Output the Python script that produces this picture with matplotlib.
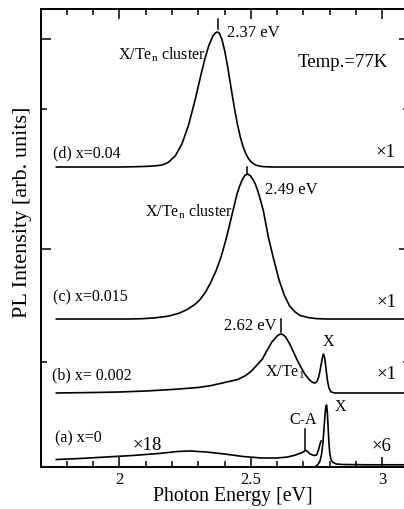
import numpy as np
import matplotlib
matplotlib.use("Agg")
import matplotlib.pyplot as plt
from matplotlib.ticker import MultipleLocator, FixedLocator, NullFormatter

plt.rcParams['font.family'] = ['Liberation Serif', 'DejaVu Serif']
plt.rcParams['mathtext.fontset'] = 'stix'

# (a) x=0, x18 part (broad band + C-A)
a18_e = [1.76, 1.85, 1.95, 2.05, 2.15, 2.22, 2.27, 2.33, 2.40, 2.47, 2.54, 2.60, 2.64, 2.67, 2.69, 2.70,
         2.707, 2.715, 2.725, 2.74, 2.75, 2.757, 2.762, 2.767]
a18_i = [0.75, 0.85, 1.0, 1.15, 1.35, 1.55, 1.6, 1.5, 1.3, 1.05, 0.9, 0.9, 1.0, 1.2, 1.4, 1.5,
         1.7, 1.55, 1.3, 1.15, 1.2, 1.7, 2.2, 2.6]
# (a) x=0, x6 part (free exciton X)
a6_e = [2.748, 2.755, 2.763, 2.769, 2.774, 2.778, 2.782, 2.785, 2.788, 2.791, 2.794, 2.797, 2.800,
        2.805, 2.812, 2.825, 2.85, 2.95, 3.1]
a6_i = [0.1, 0.25, 0.6, 1.3, 2.4, 3.8, 5.2, 6.0, 6.2, 5.4, 3.9, 2.4, 1.4,
        0.75, 0.45, 0.3, 0.25, 0.22, 0.22]

# (b) x=0.002
b_e = [1.76, 1.9, 2.0, 2.1, 2.2, 2.3, 2.35, 2.40, 2.45, 2.48, 2.50, 2.52, 2.544, 2.56, 2.58, 2.60,
       2.608, 2.616, 2.624, 2.632, 2.648, 2.662, 2.676, 2.69, 2.705, 2.72, 2.735, 2.745, 2.752, 2.758,
       2.765, 2.771, 2.776, 2.781, 2.786, 2.791, 2.797, 2.805, 2.82, 2.9, 3.1]
b_i = [7.4, 7.45, 7.5, 7.6, 7.75, 7.95, 8.15, 8.45, 8.75, 9.15, 9.55, 10.1, 10.8, 11.6, 12.5, 13.1,
       13.25, 13.3, 13.2, 13.0, 12.3, 11.5, 10.7, 10.0, 9.3, 8.8, 8.45, 8.4, 8.6, 9.0,
       9.9, 10.8, 11.3, 10.9, 9.8, 8.7, 7.9, 7.5, 7.4, 7.4, 7.4]

# (c) x=0.015
c_e = [1.76, 1.9, 2.037, 2.087, 2.137, 2.187, 2.227, 2.257, 2.287, 2.307, 2.327, 2.347, 2.367, 2.387,
       2.407, 2.427, 2.447, 2.457, 2.467, 2.477, 2.487, 2.497, 2.507, 2.517, 2.527, 2.547, 2.567,
       2.587, 2.607, 2.627, 2.647, 2.667, 2.687, 2.717, 2.747, 2.787, 2.9, 3.1]
c_i = [14.8, 14.8, 14.8, 14.83, 14.92, 15.09, 15.38, 15.74, 16.25, 16.76, 17.48, 18.43, 19.59, 21.04,
       22.92, 25.1, 27.27, 28.07, 28.72, 29.15, 29.3, 29.15, 28.79, 28.29, 27.56, 25.68, 22.92,
       20.75, 18.72, 17.19, 16.11, 15.53, 15.16, 14.95, 14.84, 14.8, 14.8, 14.8]

# (d) x=0.04
d_e = [1.76, 1.9, 2.0, 2.05, 2.10, 2.13, 2.16, 2.175, 2.1875, 2.2125, 2.2375, 2.2625, 2.2875, 2.3125,
       2.325, 2.34, 2.355, 2.365, 2.373, 2.38, 2.39, 2.40, 2.41, 2.42, 2.43, 2.44, 2.45, 2.46, 2.47,
       2.48, 2.49, 2.50, 2.51, 2.52, 2.535, 2.55, 2.58, 2.8, 3.1]
d_i = [30.0, 30.0, 30.0, 30.02, 30.06, 30.1, 30.19, 30.32, 30.5, 31.12, 32.3, 34.16, 36.67, 39.49,
       40.81, 42.15, 43.08, 43.42, 43.5, 43.37, 42.74, 41.67, 40.27, 38.68, 37.05, 35.5, 34.12, 32.97, 32.06,
       31.37, 30.87, 30.54, 30.32, 30.18, 30.08, 30.03, 30.0, 30.0, 30.0]

fig = plt.figure(figsize=(4.04, 5.10), dpi=100)
ax = fig.add_axes([40.6 / 404, 42 / 510, 368 / 404, 458 / 510])

lw = 1.2
for e, i in [(a18_e, a18_i), (a6_e, a6_i), (b_e, b_i), (c_e, c_i), (d_e, d_i)]:
    ax.plot(e, i, color='black', lw=lw)

ax.set_xlim(1.7, 3.1)
ax.set_ylim(0, 45.8)

ax.xaxis.set_major_locator(FixedLocator([2.0, 2.5, 3.0]))
ax.xaxis.set_major_formatter(plt.FixedFormatter(['2', '2.5', '3']))
ax.xaxis.set_minor_locator(MultipleLocator(0.1))
ax.yaxis.set_major_locator(FixedLocator([21.8, 42.8]))
ax.yaxis.set_minor_locator(FixedLocator([10.5, 35.8]))
ax.yaxis.set_major_formatter(NullFormatter())
ax.tick_params(which='both', direction='in', top=True, right=True, width=1.1)
ax.tick_params(which='major', length=7, labelsize=12, pad=3)
ax.tick_params(which='minor', length=4)
for s in ax.spines.values():
    s.set_linewidth(1.4)

fig.text(233 / 404, 1 - 497 / 510, 'Photon Energy [eV]', ha='center', va='center', fontsize=14.3)
fig.text(23 / 404, 1 - 212 / 510, 'PL Intensity [arb. units]', ha='center', va='center',
         rotation=90, fontsize=16)

fs = 11.5
fx = 13.5
# sample labels and scale factors
ax.text(1.747, 31.5, '(d) x=0.04', fontsize=fs, va='center')
ax.text(2.975, 31.5, '×1', fontsize=fx, va='center')
ax.text(1.747, 17.1, '(c) x=0.015', fontsize=fs, va='center')
ax.text(2.979, 16.5, '×1', fontsize=fx, va='center')
ax.text(1.743, 9.3, '(b) x= 0.002', fontsize=fs, va='center')
ax.text(2.979, 9.3, '×1', fontsize=fx, va='center')
ax.text(1.755, 3.0, '(a) x=0', fontsize=fs, va='center')
ax.text(2.048, 2.2, '×18', fontsize=fx, va='center')
ax.text(2.96, 2.1, '×6', fontsize=fx, va='center')

# peak annotations
ax.text(2.679, 40.5, 'Temp.=77K', fontsize=13.5, va='center')
ax.text(2.409, 43.5, '2.37 eV', fontsize=12, va='center')
ax.plot([2.373, 2.373], [43.8, 44.8], color='black', lw=1.1)
ax.text(2.33, 41.3, r'X/Te$_\mathregular{n}$ cluster', fontsize=11.5, va='center', ha='right')
ax.text(2.553, 27.8, '2.49 eV', fontsize=12, va='center')
ax.plot([2.487, 2.487], [29.4, 30.0], color='black', lw=1.1)
ax.text(2.43, 25.6, r'X/Te$_\mathregular{n}$ cluster', fontsize=11.5, va='center', ha='right')
ax.text(2.599, 14.2, '2.62 eV', fontsize=12, va='center', ha='right')
ax.plot([2.616, 2.616], [13.5, 14.8], color='black', lw=1.1)
ax.text(2.553, 9.6, r'X/Te$_\mathregular{1}$', fontsize=11.5, va='center')
ax.text(2.794, 12.6, 'X', fontsize=11.5, va='center', ha='center')
ax.text(2.698, 4.8, 'C-A', fontsize=11.5, va='center', ha='center')
ax.plot([2.707, 2.707], [1.8, 3.8], color='black', lw=1.1)
ax.text(2.84, 6.1, 'X', fontsize=11.5, va='center', ha='center')

fig.savefig('out.png', dpi=100)
